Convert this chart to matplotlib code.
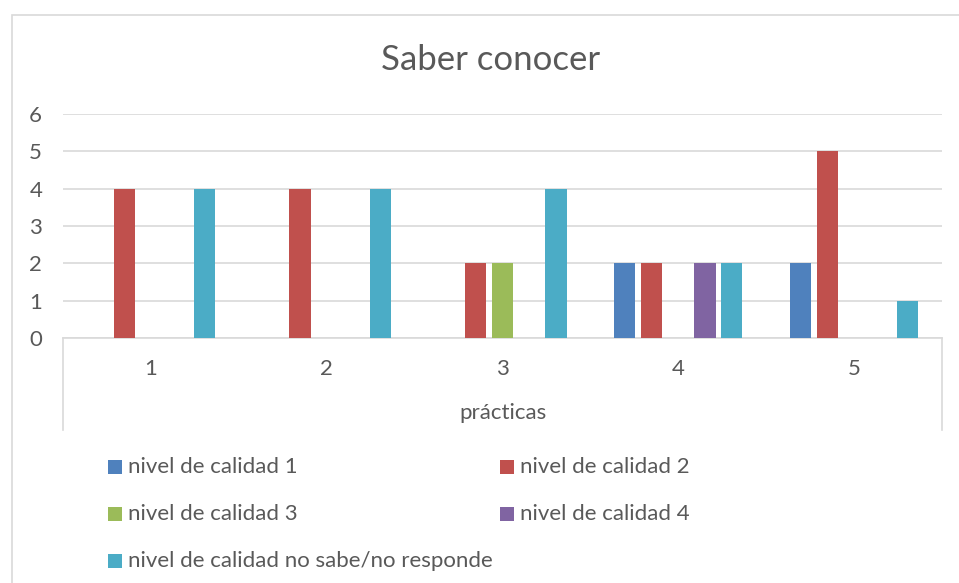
import matplotlib
matplotlib.use("Agg")
import matplotlib.pyplot as plt
import numpy as np
from matplotlib.patches import Rectangle
from matplotlib.lines import Line2D

plt.rcParams['font.family'] = ['Lato', 'DejaVu Sans']

categories = ["1", "2", "3", "4", "5"]
series_names = ["nivel de calidad 1", "nivel de calidad 2", "nivel de calidad 3",
                "nivel de calidad 4", "nivel de calidad no sabe/no responde"]
nivel1 = [0, 0, 0, 2, 2]
nivel2 = [4, 4, 2, 2, 5]
nivel3 = [0, 0, 2, 0, 0]
nivel4 = [0, 0, 0, 2, 0]
no_sabe = [4, 4, 4, 2, 1]
series = [nivel1, nivel2, nivel3, nivel4, no_sabe]
colors = ["#4F81BD", "#C0504D", "#9BBB59", "#8064A2", "#4BACC6"]
title = "Saber conocer"
xlabel = "prácticas"
yticks = [0, 1, 2, 3, 4, 5, 6]

W, H = 959, 583
fig = plt.figure(figsize=(W / 100, H / 100), dpi=100)
fig.patch.set_facecolor("white")

grey = "#595959"
gridc = "#D9D9D9"

# outer chart border (left and top edges visible)
fig.add_artist(Rectangle((12 / W, -0.01), 1.2, (H - 15) / H + 0.01, transform=fig.transFigure,
                         fill=False, edgecolor=gridc, linewidth=1.2))

left, right, y0, y6 = 63, 942, 338, 114
ax = fig.add_axes([left / W, (H - y0) / H, (right - left) / W, (y0 - y6) / H])

x = np.arange(len(categories))
spacing = 0.152
width = 0.121
for i, (vals, c, name) in enumerate(zip(series, colors, series_names)):
    ax.bar(x + (i - 2) * spacing, vals, width=width, color=c, label=name, zorder=3)

fs = 16
ax.set_xlim(-0.5, len(categories) - 0.5)
ax.set_ylim(0, 6)
ax.set_yticks(yticks)
ax.set_yticklabels([str(t) for t in yticks], fontsize=fs, color=grey)
ax.set_xticks(x)
ax.set_xticklabels(categories, fontsize=fs, color=grey)
ax.tick_params(axis='both', length=0)
ax.tick_params(axis='y', pad=15)
ax.tick_params(axis='x', pad=15)
ax.grid(axis='y', color=gridc, linewidth=1.2, zorder=0)
for s in ["top", "right", "left"]:
    ax.spines[s].set_visible(False)
ax.spines["bottom"].set_color(gridc)
ax.spines["bottom"].set_linewidth(1.2)

# category separators extending down
for xp in [left, right]:
    fig.add_artist(Line2D([xp / W, xp / W], [(H - y0) / H, (H - 430) / H],
                          transform=fig.transFigure, color=gridc, linewidth=1.2))

fig.text(503 / W, (H - 419) / H, xlabel, fontsize=fs, color=grey, ha='center', va='baseline')
fig.text(491 / W, (H - 60) / H, title, fontsize=25, color=grey, ha='center', va='center')

# legend
positions = [(108, 467), (500, 467), (108, 514), (500, 514), (108, 561)]
msize = 14
for (px, py), c, name in zip(positions, colors, series_names):
    fig.add_artist(Rectangle((px / W, (H - py - msize / 2) / H), msize / W, msize / H,
                             transform=fig.transFigure, color=c, linewidth=0))
    fig.text((px + 20) / W, (H - py) / H, name, fontsize=fs, color=grey, ha='left', va='center')

fig.savefig("out.png", dpi=100)
